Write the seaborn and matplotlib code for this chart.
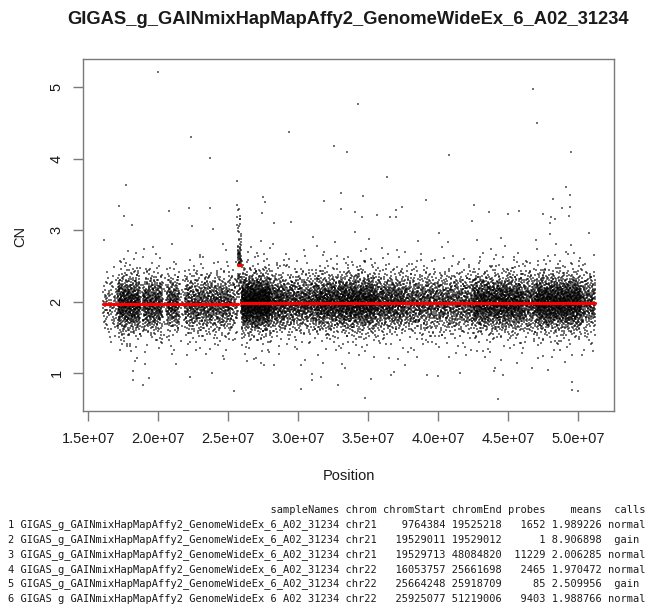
import numpy as np
import pandas as pd
import matplotlib
matplotlib.use("Agg")
import matplotlib.pyplot as plt
import seaborn as sns
from statistics import NormalDist

# ---------------- data ----------------
title = "GIGAS_g_GAINmixHapMapAffy2_GenomeWideEx_6_A02_31234"

# printed segment table
row_ids = [1, 2, 3, 4, 5, 6]
sample_names = [title] * 6
chroms = ["chr21", "chr21", "chr21", "chr22", "chr22", "chr22"]
chrom_starts = [9764384, 19529011, 19529713, 16053757, 25664248, 25925077]
chrom_ends = [19525218, 19529012, 48084820, 25661698, 25918709, 51219006]
probes = [1652, 1, 11229, 2465, 85, 9403]
means = [1.989226, 8.906898, 2.006285, 1.970472, 2.509956, 1.988766]
calls = ["normal", "gain", "normal", "normal", "gain", "normal"]

# probe-cloud description along chr22 (region edges in bp, relative density, spread of CN)
region_starts = [16.05e6, 17.10e6, 18.70e6, 18.90e6, 20.30e6, 20.60e6, 21.50e6, 21.90e6, 25.20e6,
                 25.664e6,
                 25.93e6, 28.0e6, 29.0e6, 31.2e6, 33.0e6, 35.5e6, 37.5e6, 39.5e6, 42.5e6, 46.0e6, 47.0e6, 50.2e6]
region_ends = [17.10e6, 18.70e6, 18.90e6, 20.30e6, 20.60e6, 21.50e6, 21.90e6, 25.20e6, 25.66e6,
               25.918e6,
               28.0e6, 29.0e6, 31.2e6, 33.0e6, 35.5e6, 37.5e6, 39.5e6, 42.5e6, 46.0e6, 47.0e6, 50.2e6, 51.22e6]
region_density = [0.35, 1.5, 0.25, 1.2, 0.2, 1.1, 0.2, 0.95, 0.6,
                  1.0,
                  2.0, 1.1, 0.9, 1.2, 1.4, 1.0, 0.8, 0.75, 1.3, 0.9, 1.5, 0.8]
region_spread = [0.20, 0.20, 0.20, 0.20, 0.20, 0.19, 0.20, 0.20, 0.22,
                 0.35,
                 0.19, 0.19, 0.19, 0.19, 0.19, 0.19, 0.20, 0.20, 0.19, 0.20, 0.19, 0.20]
region_segment = [3, 3, 3, 3, 3, 3, 3, 3, 3,
                  4,
                  5, 5, 5, 5, 5, 5, 5, 5, 5, 5, 5, 5]

# isolated outlying probes
outlier_pos = [1.997e7, 3.425e7, 4.676e7, 4.704e7, 2.232e7, 2.366e7, 2.932e7, 3.257e7, 3.346e7,
               4.075e7, 4.95e7, 3.635e7, 1.770e7, 2.564e7, 3.306e7, 3.461e7, 3.181e7, 3.915e7,
               4.91e7, 4.943e7, 4.816e7, 1.717e7, 1.756e7, 2.079e7, 2.220e7, 2.366e7, 2.564e7,
               2.746e7, 2.765e7, 2.739e7, 2.949e7, 3.408e7, 3.453e7, 3.561e7, 3.652e7, 3.700e7,
               3.700e7, 3.740e7, 4.257e7, 4.362e7, 4.496e7, 4.575e7, 4.75e7, 4.805e7, 4.836e7,
               4.884e7, 4.943e7, 4.795e7, 2.564e7, 2.564e7,
               1.818e7, 1.890e7, 2.229e7, 3.019e7, 3.095e7, 3.019e7, 2.732e7, 3.473e7, 4.425e7,
               4.955e7, 4.955e7, 3.286e7, 3.664e7, 3.92e7, 4.154e7, 4.40e7, 3.336e7]
outlier_cn = [5.21, 4.76, 4.97, 4.50, 4.31, 4.01, 4.37, 4.18, 4.10,
              4.05, 4.10, 3.74, 3.64, 3.69, 3.52, 3.48, 3.41, 3.43,
              3.60, 3.49, 3.44, 3.34, 3.20, 3.27, 3.31, 3.31, 3.36,
              3.46, 3.39, 3.24, 3.12, 3.26, 3.19, 3.21, 3.18, 3.28,
              3.19, 3.32, 3.36, 3.26, 3.23, 3.27, 3.23, 3.19, 3.16,
              3.31, 3.33, 3.10, 3.18, 3.08,
              0.90, 0.84, 0.95, 0.78, 0.91, 1.12, 1.14, 0.66, 0.64,
              0.77, 0.88, 0.84, 0.98, 0.97, 1.00, 1.03, 1.08]

x_ticks = [1.5e7, 2.0e7, 2.5e7, 3.0e7, 3.5e7, 4.0e7, 4.5e7, 5.0e7]
x_tick_labels = ["1.5e+07", "2.0e+07", "2.5e+07", "3.0e+07", "3.5e+07", "4.0e+07", "4.5e+07", "5.0e+07"]
y_ticks = [1, 2, 3, 4, 5]


# ---------------- place probes of each region (deterministic low-discrepancy layout) ----------------
def halton(i, b):
    f, r = 1.0, 0.0
    while i > 0:
        f /= b
        r += f * (i % b)
        i //= b
    return r


nd = NormalDist()
xs, ys = [], []
counter = 1
for seg in sorted(set(region_segment)):
    idx = [k for k, s in enumerate(region_segment) if s == seg]
    w = [region_density[k] * (region_ends[k] - region_starts[k]) for k in idx]
    tot = sum(w)
    for k, wk in zip(idx, w):
        n = int(round(probes[seg] * wk / tot))
        for j in range(n):
            i = counter
            counter += 1
            u = halton(i, 2)
            v = halton(i, 3)
            t = halton(i, 5)
            sd = region_spread[k] * (2.0 if t < 0.12 else 1.0)
            x = region_starts[k] + u * (region_ends[k] - region_starts[k])
            y = means[seg] + sd * nd.inv_cdf(min(max(v, 1e-6), 1 - 1e-6))
            if seg == 4:
                y = means[seg] + abs(y - means[seg]) * (1 if v > 0.3 else -0.6)
            y = min(max(y, 0.75), 3.3)
            xs.append(x)
            ys.append(y)
xs += outlier_pos
ys += outlier_cn
points = pd.DataFrame({"Position": xs, "CN": ys})

# ---------------- drawing ----------------
sns.set_style("white")
plt.rcParams["font.family"] = ["Liberation Sans", "DejaVu Sans"]

fig = plt.figure(figsize=(6.52, 6.04), dpi=100)
W, H = 652, 604
ax = fig.add_axes([83.3 / W, 1 - 411 / H, (614.3 - 83.3) / W, (411 - 59.3) / H])

sns.scatterplot(data=points, x="Position", y="CN", ax=ax, marker="s", s=0.6,
                linewidth=0, color="black", alpha=0.55, legend=False)

for k in range(6):
    if chroms[k] == "chr22":
        seg_df = pd.DataFrame({"Position": [chrom_starts[k], chrom_ends[k]], "CN": [means[k], means[k]]})
        sns.lineplot(data=seg_df, x="Position", y="CN", ax=ax, color="#ff0000", lw=2.3)

ax.set_xlim(1.4643e7, 5.257e7)
ax.set_ylim(0.473, 5.392)
ax.set_xticks(x_ticks)
ax.set_xticklabels(x_tick_labels)
ax.set_yticks(y_ticks)
ax.set_yticklabels([str(v) for v in y_ticks], rotation=90, va="center")
ax.tick_params(axis="both", direction="out", length=7.2, width=1, color="#7a7a7a",
               labelsize=10.5, labelcolor="#1a1a1a")
ax.tick_params(axis="x", pad=8)
ax.tick_params(axis="y", pad=7)
ax.tick_params(bottom=True, left=True, top=False, right=False)
for sp in ax.spines.values():
    sp.set_visible(True)
    sp.set_color("#7a7a7a")
    sp.set_linewidth(1.0)
ax.set_xlabel("")
ax.set_ylabel("")

fig.text(348.5 / W, 1 - 476 / H, "Position", ha="center", va="center", fontsize=10.5, color="#1a1a1a")
fig.text(20 / W, 1 - 236 / H, "CN", ha="center", va="center", rotation=90, fontsize=10.5, color="#1a1a1a")
fig.text(348.5 / W, 1 - 19 / H, title, ha="center", va="center", fontsize=13.2,
         fontweight="bold", color="#1a1a1a")

# printed data frame below the plot
header = "  " + "sampleNames".rjust(len(title)) + " chrom chromStart chromEnd probes    means  calls"
lines = [header]
for k in range(6):
    call_txt = calls[k] if calls[k] == "normal" else " " + calls[k] + " "
    lines.append(f"{row_ids[k]} {sample_names[k]} {chroms[k]} {chrom_starts[k]:>10d} {chrom_ends[k]:>8d} "
                 f"{probes[k]:>6d} {means[k]:.6f} {call_txt}")
for li, line in enumerate(lines):
    fig.text(8 / W, 1 - (510 + 14.8 * li) / H, line, ha="left", va="center",
             fontsize=7.45, family="DejaVu Sans Mono", color="#1a1a1a")

fig.savefig("out.png", dpi=100, facecolor="white")
